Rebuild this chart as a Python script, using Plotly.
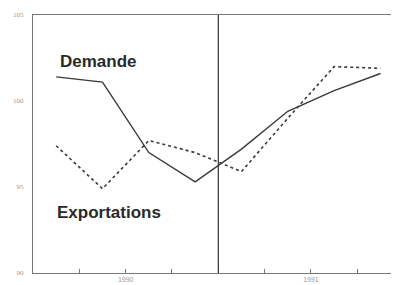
import plotly.graph_objects as go

# Quarter positions (mid-quarter) and values
periods = [0.5, 1.5, 2.5, 3.5, 4.5, 5.5, 6.5, 7.5]
demande = [101.4, 101.1, 97.0, 95.3, 97.2, 99.4, 100.6, 101.6]
exportations = [97.4, 94.9, 97.7, 97.0, 95.9, 99.0, 102.0, 101.9]

tick_vals = [1, 2, 3, 4, 5, 6, 7]
tick_text = ["", "1990", "", "", "", "1991", ""]
y_ticks = [90, 95, 100, 105]

fig = go.Figure()
fig.add_trace(go.Scatter(x=periods, y=demande, mode="lines",
                         line=dict(color="#3a3a3a", width=1.4), name="Demande"))
fig.add_trace(go.Scatter(x=periods, y=exportations, mode="lines",
                         line=dict(color="#3a3a3a", width=1.6, dash="3px,3px"),
                         name="Exportations"))

fig.add_shape(type="line", xref="x", yref="paper", x0=4, x1=4, y0=0, y1=1,
              line=dict(color="#333333", width=1.2))

fig.add_annotation(x=0.54, y=102.3, text="<b>Demande</b>", showarrow=False,
                   xanchor="left", yanchor="middle",
                   font=dict(family="Liberation Sans, Arial", size=17, color="#2a2a2a"))
fig.add_annotation(x=0.47, y=93.5, text="<b>Exportations</b>", showarrow=False,
                   xanchor="left", yanchor="middle",
                   font=dict(family="Liberation Sans, Arial", size=17, color="#2a2a2a"))

# The page body adds an 8px offset, so the figure is sized to fit the window
fig.update_layout(
    width=391, height=277,
    margin=dict(l=25, r=0, t=7, b=12),
    paper_bgcolor="white", plot_bgcolor="white",
    showlegend=False,
    xaxis=dict(range=[0, 7.9], tickvals=tick_vals, ticktext=tick_text,
               ticks="inside", ticklen=4, tickcolor="#777", tickwidth=1,
               showgrid=False, zeroline=False, showline=True, automargin=False,
               linecolor="#777", linewidth=1, mirror=True, ticklabelstandoff=0,
               tickfont=dict(family="Liberation Sans, Arial", size=7, color="#999999")),
    yaxis=dict(range=[90, 105], tickvals=y_ticks, automargin=False,
               ticks="", showgrid=False, zeroline=False, showline=True,
               linecolor="#777", linewidth=1, ticklabelstandoff=7,
               tickfont=dict(family="Liberation Serif, Times New Roman", size=7, color="#999999")),
)

fig.write_html("out.html")
